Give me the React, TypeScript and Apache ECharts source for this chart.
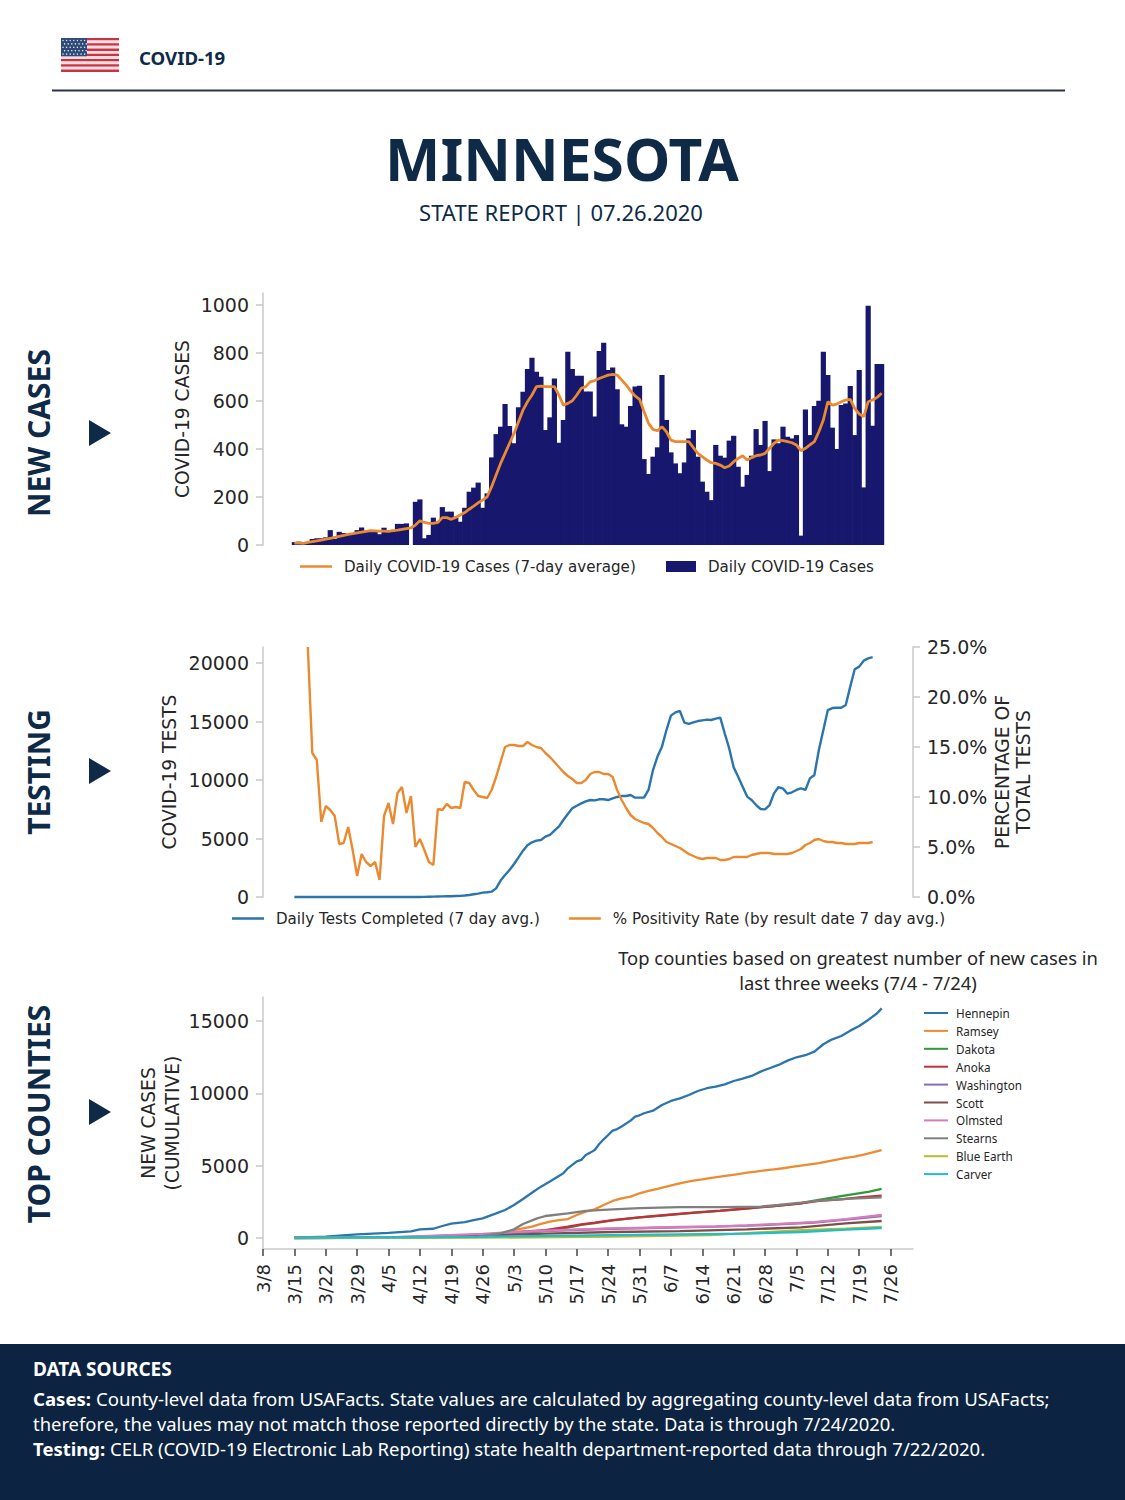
import React, { useEffect, useRef } from "react";
import * as echarts from "echarts";

const xLabels: string[] = [];
{
  const lens = [[3, 8, 31], [4, 1, 30], [5, 1, 31], [6, 1, 30], [7, 1, 31]];
  for (const [m, s, e] of lens) for (let d = s; d <= e; d++) xLabels.push(`${m}/${d}`);
}

const dailyCases = [12,14,8,10,25,28,28,32,62,25,55,50,44,48,62,73,55,55,55,45,72,55,55,88,88,90,0,180,190,28,42,114,97,158,139,139,118,97,155,222,239,260,155,215,365,462,493,587,496,424,574,639,733,780,722,701,479,532,694,426,521,805,733,705,705,640,640,535,808,843,729,740,649,503,493,579,660,664,358,296,368,407,708,521,386,340,299,344,444,479,368,264,222,187,417,372,364,435,455,326,243,292,372,483,417,517,308,440,424,493,451,444,458,39,565,458,579,601,805,708,489,400,583,590,662,458,729,240,997,497,754,754];
const avgCases = [8,8,7,11,14,17,20,24,28,32,36,40,44,47,51,54,57,60,59,58,58,57,60,62,65,68,71,83,101,94,90,90,94,114,114,107,115,125,135,149,162,176,187,201,243,292,340,382,424,465,514,562,597,625,660,662,660,660,660,625,583,590,601,625,653,660,680,685,694,701,708,711,708,688,667,642,621,607,556,507,482,476,493,472,437,431,431,431,431,406,382,368,354,343,340,333,322,329,347,361,372,354,364,372,375,382,403,424,437,435,431,426,417,393,403,417,431,472,521,597,583,587,597,604,607,569,546,535,597,604,615,632];

const testsEarly = [0,0,0,0,0,0,0,0,0,0,0,0,0,0,0,0,0,0,0,0,0,0,0,0,0,0,0,0,0,10,20,30,40,50,60,70,85,100,130,170,230,290,370,410,455];
const testsLate = [740,1400,1880,2310,2820,3390,3960,4420,4670,4815,4870,5160,5300,5670,6010,6580,7090,7580,7800,8000,8180,8290,8260,8350,8350,8290,8430,8550,8630,8630,8720,8490,8490,8490,9150,10850,12000,12850,14270,15500,15780,15900,14900,14790,14930,15040,15100,15160,15130,15240,15330,13990,12700,11080,10280,9430,8580,8290,7860,7520,7490,7860,8860,9400,9260,8830,8950,9150,9290,9150,10140,10430,12560,14270,15980,16150,16180,16180,16410,17980,19460,19690,20200,20400,20510];
const positivity = [25,14.4,13.7,7.5,9.1,8.7,8.1,5.3,5.4,7.0,4.7,2.1,4.3,3.5,3.1,3.5,1.7,8.1,9.4,7.3,10.4,11.0,8.4,10.1,5.0,5.8,4.7,3.5,3.2,8.8,8.7,9.3,8.9,9.0,8.9,11.5,11.4,10.7,10.1,10.0,9.9,10.7,12.0,13.5,15.0,15.2,15.2,15.1,15.1,15.5,15.2,15.0,14.9,14.4,14.0,13.5,13.0,12.5,12.1,11.8,11.4,11.4,11.7,12.3,12.5,12.5,12.3,12.3,12.0,10.7,9.7,8.9,8.2,7.8,7.6,7.4,7.3,6.9,6.4,6.0,5.5,5.3,5.1,4.9,4.6,4.3,4.1,3.9,3.8,3.9,3.9,3.9,3.7,3.7,3.8,4.0,4.0,4.0,4.0,4.2,4.3,4.4,4.4,4.4,4.3,4.3,4.3,4.3,4.4,4.6,4.8,5.2,5.4,5.7,5.8,5.6,5.5,5.5,5.4,5.4,5.3,5.3,5.3,5.4,5.4,5.4,5.5];

const hennepin = [[7,30],[14,100],[21,250],[28,350],[33,460],[35,600],[38,640],[40,830],[42,990],[45,1100],[47,1240],[49,1360],[52,1700],[54,1935],[56,2280],[58,2700],[60,3130],[62,3550],[64,3900],[66,4290],[67,4470],[68,4815],[70,5300],[71,5400],[72,5740],[73,5900],[74,6080],[75,6500],[76,6820],[77,7120],[78,7420],[79,7530],[80,7700],[82,8110],[83,8390],[84,8480],[85,8620],[87,8800],[89,9190],[91,9470],[93,9650],[95,9880],[97,10160],[99,10350],[101,10460],[103,10620],[105,10850],[107,11010],[109,11200],[111,11500],[113,11730],[115,11960],[117,12260],[119,12490],[121,12630],[123,12880],[125,13390],[126,13570],[127,13730],[129,13960],[131,14330],[133,14650],[135,15070],[136,15300],[137,15530],[138,15870]];
const ramsey = [[7,5],[28,40],[45,70],[49,90],[52,180],[54,320],[56,550],[58,670],[60,780],[62,970],[64,1130],[66,1230],[68,1310],[70,1590],[72,1820],[74,1980],[76,2280],[78,2560],[80,2740],[82,2860],[84,3090],[86,3250],[88,3390],[90,3550],[92,3710],[94,3850],[96,3960],[98,4050],[100,4150],[102,4240],[104,4330],[106,4420],[108,4520],[110,4580],[112,4680],[114,4750],[116,4820],[118,4910],[120,5000],[122,5090],[124,5180],[126,5300],[128,5410],[130,5530],[132,5620],[134,5760],[136,5920],[138,6080]];
const dakota = [[7,2],[28,30],[49,110],[56,340],[63,500],[68,720],[71,900],[74,1030],[78,1220],[84,1420],[90,1580],[96,1740],[102,1880],[108,2040],[114,2210],[120,2400],[123,2580],[126,2740],[130,2950],[135,3180],[138,3390]];
const anoka = [[7,2],[28,30],[49,130],[56,390],[58,440],[63,550],[68,780],[71,945],[74,1060],[78,1240],[84,1430],[90,1590],[96,1750],[102,1890],[108,2050],[114,2210],[120,2400],[124,2560],[129,2670],[133,2810],[138,2930]];
const washington = [[7,2],[28,40],[49,240],[56,380],[63,480],[71,570],[78,640],[86,690],[93,730],[101,780],[108,850],[115,940],[123,1070],[130,1270],[138,1520]];
const scott = [[7,1],[28,20],[49,160],[63,300],[78,415],[93,480],[108,600],[120,740],[130,1010],[138,1175]];
const olmsted = [[7,2],[28,50],[49,280],[56,415],[63,510],[71,600],[78,670],[86,710],[93,760],[101,810],[108,875],[115,970],[123,1100],[130,1310],[138,1590]];
const stearns = [[7,1],[28,20],[48,90],[53,320],[56,600],[58,970],[61,1340],[63,1520],[68,1700],[72,1870],[78,1980],[84,2070],[93,2140],[102,2140],[111,2170],[115,2280],[120,2440],[124,2580],[130,2700],[138,2810]];
const blueEarth = [[7,1],[48,20],[78,90],[100,200],[105,280],[120,550],[130,650],[138,760]];
const carver = [[7,2],[48,80],[78,200],[108,300],[120,415],[130,580],[138,690]];

const countyNames = ["Hennepin","Ramsey","Dakota","Anoka","Washington","Scott","Olmsted","Stearns","Blue Earth","Carver"];
const countySeries = [hennepin,ramsey,dakota,anoka,washington,scott,olmsted,stearns,blueEarth,carver];
const countyColors = ["#2b75ad","#ee8a30","#2e9a3a","#c52e3a","#8a6bb5","#7d4f48","#d77cbb","#7f7f7f","#b5bd2e","#22bccd"];

const caseTicks = [0,200,400,600,800,1000];
const testTicks = [0,5000,10000,15000,20000];
const pctTicks = [0,5,10,15,20,25];
const countyTicks = [0,5000,10000,15000];

const NAVY = "#0e2a47";
const INK = "#262626";
const AXIS = "#c9c9c9";
const TICK_FONT = "DejaVu Sans";
const ORANGE = "#ea8a30";
const BLUE = "#2b75ad";

function flagShapes() {
  const out: any[] = [];
  for (let i = 0; i < 13; i++) {
    out.push({ type: "rect", shape: { x: 61, y: 38 + i * 2.62, width: 58, height: 2.62 }, style: { fill: i % 2 ? "#f6dfe0" : "#c93344" } });
  }
  out.push({ type: "rect", shape: { x: 61, y: 38, width: 26, height: 18.3 }, style: { fill: "#2f4a78" } });
  for (let r = 0; r < 5; r++) for (let c = 0; c < 7; c++) {
    out.push({ type: "circle", shape: { cx: 63 + c * 3.6 + (r % 2) * 1.6, cy: 40.5 + r * 3.4, r: 0.7 }, style: { fill: "#e6ebf3" } });
  }
  return out;
}

function txt(x: number, y: number, text: string, fontSize: number, opts: any = {}) {
  const { rotation, fill, fontWeight, fontFamily, align, rich } = opts;
  return {
    type: "text", x, y, rotation: rotation || 0,
    style: { text, fontSize, fill: fill || NAVY, fontWeight: fontWeight || "normal", fontFamily: fontFamily || "Noto Sans", align: align || "left", verticalAlign: "middle", rich },
  };
}

function yAxisBase(gridIndex: number, min: number, max: number, ticks: number[], name: string, nameGap: number, position = "left", fmt?: (v: number) => string, lineHeight = 21): any {
  return {
    type: "value", gridIndex, min, max, position, name, nameLocation: "middle", nameGap,
    nameRotate: 90, nameMoveOverlap: false,
    nameTextStyle: { fontFamily: TICK_FONT, fontSize: 18.7, color: INK, lineHeight },
    axisLine: { show: true, onZero: false, lineStyle: { color: AXIS, width: 1.5 } },
    axisTick: { show: true, length: 7, customValues: ticks, lineStyle: { color: AXIS, width: 1.5 } },
    axisLabel: { customValues: ticks, margin: 14, fontFamily: TICK_FONT, fontSize: 19, color: INK, formatter: fmt || ((v: number) => String(v)) },
    splitLine: { show: false },
  };
}

export default function App() {
  const ref = useRef<HTMLDivElement>(null);
  useEffect(() => {
    document.body.style.margin = "0";
    const chart = echarts.init(ref.current!, undefined, { renderer: "svg" });
    const lineBase = { type: "line", symbol: "none", showSymbol: false, clip: false, smooth: false };
    const xBase = { type: "category", data: xLabels, boundaryGap: false };
    const legendText = { fontFamily: TICK_FONT, fontSize: 15.1, color: INK, padding: [0, 0, 0, 7] };
    const lineLegend = { icon: "rect", itemWidth: 32, itemHeight: 2.5, itemGap: 29, textStyle: legendText };

    chart.setOption({
      animation: false,
      backgroundColor: "#ffffff",
      grid: [
        { left: 263, top: 293, width: 650, height: 252 },
        { left: 263, top: 647, width: 650, height: 250 },
        { left: 263, top: 997, width: 650, height: 252 },
      ],
      xAxis: [
        { ...xBase, gridIndex: 0, show: false },
        { ...xBase, gridIndex: 1, show: false },
        {
          ...xBase, gridIndex: 2,
          axisLine: { show: true, onZero: false, lineStyle: { color: AXIS, width: 1.5 } },
          axisTick: { show: true, interval: 6, length: 7, lineStyle: { color: "#444", width: 1.5 } },
          axisLabel: { interval: 6, rotate: 90, margin: 15, fontFamily: TICK_FONT, fontSize: 18, color: INK },
        },
      ],
      yAxis: [
        yAxisBase(0, 0, 1050, caseTicks, "COVID-19 CASES", 70),
        yAxisBase(1, 0, 21368, testTicks, "COVID-19 TESTS", 83),
        yAxisBase(1, 0, 25, pctTicks, "PERCENTAGE OF\nTOTAL TESTS", 79, "right", (v) => `${v.toFixed(1)}%`),
        yAxisBase(2, -760, 16655, countyTicks, "NEW CASES\n(CUMULATIVE)", 79, "left", undefined, 24),
      ],
      legend: [
        { ...lineLegend, left: 295, top: 554, data: ["Daily COVID-19 Cases (7-day average)"] },
        {
          left: 661, top: 554, itemWidth: 30, itemHeight: 11, textStyle: legendText,
          data: [{ name: "Daily COVID-19 Cases", icon: "rect" }],
        },
        {
          ...lineLegend, left: 227, top: 906,
          data: ["Daily Tests Completed (7 day avg.)", "% Positivity Rate (by result date 7 day avg.)"],
        },
        {
          left: 919, top: 1002, orient: "vertical", icon: "rect", itemWidth: 24, itemHeight: 2, itemGap: 5.9,
          textStyle: { fontFamily: "Noto Sans", fontSize: 11.7, color: INK, padding: [0, 0, 0, 3] },
          data: countyNames,
        },
      ],
      series: [
        {
          type: "bar", name: "Daily COVID-19 Cases", xAxisIndex: 0, yAxisIndex: 0, barWidth: 5.2,
          itemStyle: { color: "#17176e" },
          data: dailyCases.map((v, i) => [i + 7, v]),
        },
        {
          ...lineBase, name: "Daily COVID-19 Cases (7-day average)", xAxisIndex: 0, yAxisIndex: 0, z: 5,
          lineStyle: { color: ORANGE, width: 2.8 }, itemStyle: { color: ORANGE },
          data: avgCases.map((v, i) => [i + 7, v]),
        },
        {
          ...lineBase, name: "Daily Tests Completed (7 day avg.)", xAxisIndex: 1, yAxisIndex: 1,
          lineStyle: { color: BLUE, width: 2.4 }, itemStyle: { color: BLUE },
          data: testsEarly.concat(testsLate).map((v, i) => [i + 7, v]),
        },
        {
          ...lineBase, name: "% Positivity Rate (by result date 7 day avg.)", xAxisIndex: 1, yAxisIndex: 2,
          lineStyle: { color: ORANGE, width: 2.4 }, itemStyle: { color: ORANGE },
          data: positivity.map((v, i) => [i + 10, v]),
        },
        ...countyNames.map((name, i) => ({
          ...lineBase, name, xAxisIndex: 2, yAxisIndex: 3,
          lineStyle: { color: countyColors[i], width: 2.3 }, itemStyle: { color: countyColors[i] },
          data: countySeries[i],
        })),
      ],
      graphic: [
        ...flagShapes(),
        txt(139, 57, "COVID-19", 18.6, { fontWeight: "bold" }),
        { type: "rect", shape: { x: 52, y: 89.5, width: 1013, height: 2 }, style: { fill: "#2a3444" } },
        txt(562, 158, "MINNESOTA", 58.7, { fontWeight: "bold", align: "center" }),
        txt(561, 212, "STATE REPORT | 07.26.2020", 22, { align: "center" }),
        txt(38, 433, "NEW CASES", 30, { fontWeight: "bold", align: "center", rotation: Math.PI / 2 }),
        txt(38, 772, "TESTING", 30, { fontWeight: "bold", align: "center", rotation: Math.PI / 2 }),
        txt(38, 1114, "TOP COUNTIES", 30, { fontWeight: "bold", align: "center", rotation: Math.PI / 2 }),
        ...[433, 771, 1112].map((y) => ({
          type: "polygon", shape: { points: [[89, y - 13], [111, y], [89, y + 13]] }, style: { fill: NAVY },
        })),
        txt(858, 957, "Top counties based on greatest number of new cases in", 18.4, { align: "center", fill: INK }),
        txt(858, 982, "last three weeks (7/4 - 7/24)", 18.4, { align: "center", fill: INK }),
        { type: "rect", shape: { x: 0, y: 1344, width: 1125, height: 156 }, style: { fill: "#0c2442" } },
        txt(33, 1368.5, "DATA SOURCES", 19, { fontWeight: "bold", fill: "#ffffff" }),
        txt(33, 1398.5, "{b|Cases:} County-level data from USAFacts. State values are calculated by aggregating county-level data from USAFacts;", 18.6, {
          fill: "#ffffff", rich: { b: { fontWeight: "bold", fill: "#ffffff", fontSize: 18.6, fontFamily: "Noto Sans" } },
        }),
        txt(33, 1423.5, "therefore, the values may not match those reported directly by the state. Data is through 7/24/2020.", 18.4, { fill: "#ffffff" }),
        txt(33, 1448.5, "{b|Testing:} CELR (COVID-19 Electronic Lab Reporting) state health department-reported data through 7/22/2020.", 18.5, {
          fill: "#ffffff", rich: { b: { fontWeight: "bold", fill: "#ffffff", fontSize: 18.5, fontFamily: "Noto Sans" } },
        }),
      ],
    });
    return () => chart.dispose();
  }, []);
  return <div ref={ref} style={{ position: "absolute", left: 0, top: 0, width: 1125, height: 1500 }} />;
}
